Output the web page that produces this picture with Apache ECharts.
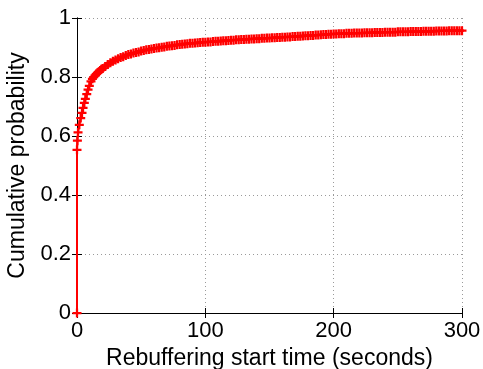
<!DOCTYPE html>
<html>
<head>
<meta charset="utf-8">
<script src="https://cdn.jsdelivr.net/npm/echarts@6/dist/echarts.min.js"></script>
<style>
  html, body { margin: 0; padding: 0; background: #ffffff; }
  #chart { width: 483px; height: 369px; }
</style>
</head>
<body>
<div id="chart"></div>
<script>
// Empirical CDF of rebuffering start time
const startTimes = [
  0, 0, 0.3, 0.8, 1.8, 2.9, 3.9, 4.7, 5.7, 6.5, 7.6, 8.6, 9.6, 10.9,
  12, 13, 14, 15, 16, 17, 18, 19, 20,
  22, 24, 26, 28, 30, 32, 34, 36, 38, 40,
  42, 44, 46, 48, 50, 52, 54, 56, 58, 60,
  62, 64, 66, 68, 70, 72, 74, 76, 78, 80,
  82, 84, 86, 88, 90, 92, 94, 96, 98, 100,
  102, 104, 106, 108, 110, 112, 114, 116, 118, 120,
  122, 124, 126, 128, 130, 132, 134, 136, 138, 140,
  142, 144, 146, 148, 150, 152, 154, 156, 158, 160,
  162, 164, 166, 168, 170, 172, 174, 176, 178, 180,
  182, 184, 186, 188, 190, 192, 194, 196, 198, 200,
  202, 204, 206, 208, 210, 212, 214, 216, 218, 220,
  222, 224, 226, 228, 230, 232, 234, 236, 238, 240,
  242, 244, 246, 248, 250, 252, 254, 256, 258, 260,
  262, 264, 266, 268, 270, 272, 274, 276, 278, 280,
  282, 284, 286, 288, 290, 292, 294, 296, 298, 300
];
const cumulativeProb = [
  0, 0.553, 0.584, 0.612, 0.638, 0.661, 0.678, 0.695, 0.712, 0.726, 0.742, 0.757, 0.770, 0.785,
  0.794, 0.800, 0.805, 0.810, 0.814, 0.818, 0.822, 0.826, 0.829,
  0.836, 0.842, 0.848, 0.853, 0.858, 0.862, 0.866, 0.869, 0.873, 0.876,
  0.878, 0.881, 0.883, 0.885, 0.888, 0.890, 0.892, 0.893, 0.895, 0.897,
  0.898, 0.899, 0.901, 0.902, 0.904, 0.905, 0.906, 0.907, 0.909, 0.910,
  0.911, 0.912, 0.913, 0.914, 0.914, 0.915, 0.916, 0.917, 0.918, 0.918,
  0.919, 0.919, 0.920, 0.921, 0.921, 0.922, 0.923, 0.923, 0.924, 0.925,
  0.925, 0.926, 0.926, 0.927, 0.927, 0.928, 0.928, 0.929, 0.929, 0.930,
  0.930, 0.931, 0.931, 0.932, 0.932, 0.933, 0.933, 0.934, 0.934, 0.935,
  0.935, 0.936, 0.936, 0.937, 0.937, 0.938, 0.938, 0.939, 0.940, 0.940,
  0.941, 0.941, 0.942, 0.942, 0.943, 0.944, 0.944, 0.945, 0.945, 0.946,
  0.946, 0.947, 0.947, 0.947, 0.948, 0.948, 0.948, 0.949, 0.949, 0.949,
  0.949, 0.950, 0.950, 0.950, 0.950, 0.951, 0.951, 0.951, 0.951, 0.952,
  0.952, 0.952, 0.952, 0.952, 0.953, 0.953, 0.953, 0.953, 0.953, 0.954,
  0.954, 0.954, 0.954, 0.954, 0.955, 0.955, 0.955, 0.955, 0.955, 0.956,
  0.956, 0.956, 0.956, 0.956, 0.957, 0.957, 0.957, 0.957, 0.957, 0.957
];
const xTicks = [0, 100, 200, 300];
const yTicks = [0, 0.2, 0.4, 0.6, 0.8, 1];

const FONT = "'Liberation Sans', Arial, Helvetica, sans-serif";
const plus = 'path://M-1,-4H1V-1H4V1H1V4H-1V1H-4V-1H-1Z';

const points = startTimes.map((t, i) => [t, cumulativeProb[i]]);

const dotted = { show: true, lineStyle: { color: '#9a9a9a', width: 1, type: [1, 3] } };
const frame = { show: true, lineStyle: { color: '#000000', width: 1 } };
const innerTicks = { show: true, inside: true, length: 5, lineStyle: { color: '#000000', width: 1 } };

const chart = echarts.init(document.getElementById('chart'), null, { renderer: 'canvas' });
chart.setOption({
  animation: false,
  backgroundColor: '#ffffff',
  grid: { left: 77, right: 21, top: 18, bottom: 56, containLabel: false, outerBoundsMode: 'none' },
  xAxis: [
    {
      type: 'value', position: 'bottom',
      min: xTicks[0], max: xTicks[xTicks.length - 1], interval: 100,
      axisLine: frame, axisTick: innerTicks, splitLine: dotted,
      axisLabel: { color: '#000000', fontFamily: FONT, fontSize: 22, margin: 7 },
      name: 'Rebuffering start time (seconds)',
      nameLocation: 'middle', nameGap: 27,
      nameTextStyle: { color: '#000000', fontFamily: FONT, fontSize: 23 }
    },
    {
      type: 'value', position: 'top',
      min: xTicks[0], max: xTicks[xTicks.length - 1], interval: 100,
      axisLine: frame, axisTick: innerTicks,
      axisLabel: { show: false }, splitLine: { show: false }
    }
  ],
  yAxis: [
    {
      type: 'value', position: 'left',
      min: yTicks[0], max: yTicks[yTicks.length - 1], interval: 0.2,
      axisLine: frame, axisTick: innerTicks, splitLine: dotted,
      axisLabel: { color: '#000000', fontFamily: FONT, fontSize: 22, margin: 6 },
      name: 'Cumulative probability',
      nameLocation: 'middle', nameGap: 44,
      nameTextStyle: { color: '#000000', fontFamily: FONT, fontSize: 23 }
    },
    {
      type: 'value', position: 'right',
      min: yTicks[0], max: yTicks[yTicks.length - 1], interval: 0.2,
      axisLine: frame, axisTick: innerTicks,
      axisLabel: { show: false }, splitLine: { show: false }
    }
  ],
  series: [
    {
      type: 'line',
      data: points,
      xAxisIndex: 0, yAxisIndex: 0,
      clip: false,
      symbol: plus,
      symbolSize: 9,
      showAllSymbol: true,
      itemStyle: { color: '#ff0000' },
      lineStyle: { color: '#ff0000', width: 2 },
      z: 5
    }
  ]
});
</script>
</body>
</html>
